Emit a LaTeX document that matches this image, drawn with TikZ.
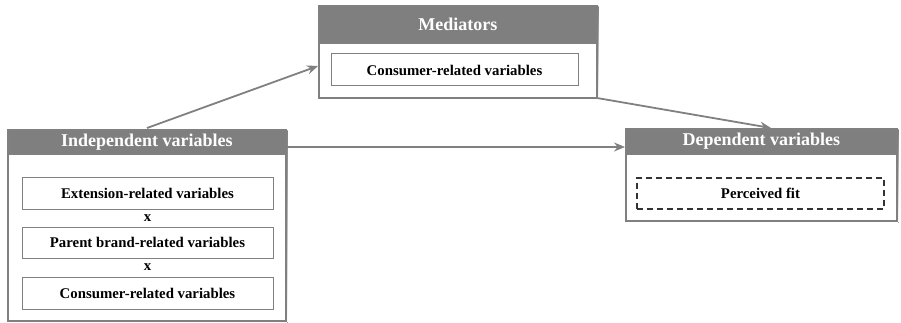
\documentclass[tikz,border=0pt]{standalone}
\usepackage{fontspec}
\setmainfont{Liberation Serif}
\usetikzlibrary{arrows.meta,calc}
\definecolor{hdr}{HTML}{7F7F7F}
\definecolor{edge}{HTML}{808080}
\definecolor{shade}{HTML}{A6A6A6}
\tikzset{
  outerbox/.style={draw=edge, line width=1.8pt, fill=white, anchor=north west, inner sep=0pt},
  header/.style={fill=hdr, draw=edge, line width=1.8pt, anchor=north west, inner sep=0pt, text=white, font=\fontsize{18}{20}\selectfont\bfseries},
  innerbox/.style={draw=edge, line width=1pt, fill=white, inner sep=0pt, font=\fontsize{14.8}{16}\selectfont\bfseries},
  dashbox/.style={draw=black!80, dashed, dash pattern=on 6pt off 4pt, line width=1.2pt, fill=white, inner sep=0pt, font=\fontsize{14.8}{16}\selectfont\bfseries},
  times/.style={inner sep=0pt, font=\fontsize{14.8}{16}\selectfont\bfseries},
  conn/.style={draw=edge, line width=1.8pt, -{Stealth[length=11pt,width=9pt]}},
}
\begin{document}
\begin{tikzpicture}[x=1pt,y=-1pt]
\useasboundingbox (0,0) rectangle (901,323);
% shadows
\fill[shade] (320,7) rectangle (598.5,99.5);
\fill[shade] (9,131) rectangle (287.5,322.5);
\fill[shade] (627,130) rectangle (898.5,222.5);
% Mediators
\node[outerbox, minimum width=278pt, minimum height=92pt] (med) at (318,5) {};
\node[header, minimum width=278pt, minimum height=37pt] (medh) at (318,5) {Mediators};
\node[innerbox, minimum width=247pt, minimum height=32pt] (medi) at (454.5,70) {Consumer-related variables};
% Independent
\node[outerbox, minimum width=278pt, minimum height=191pt] (ind) at (7,129) {};
\node[header, minimum width=278pt, minimum height=24pt] (indh) at (7,129) {Independent variables};
\node[innerbox, minimum width=251pt, minimum height=32pt] (ind1) at (147.5,193) {Extension-related variables};
\node[times] (x1) at (147.5,218) {x};
\node[innerbox, minimum width=251pt, minimum height=31pt] (ind2) at (147.5,242.5) {Parent brand-related variables};
\node[times] (x2) at (147.5,267.5) {x};
\node[innerbox, minimum width=251pt, minimum height=32pt] (ind3) at (147.5,293) {Consumer-related variables};
% Dependent
\node[outerbox, minimum width=271pt, minimum height=92pt] (dep) at (625,128) {};
\node[header, minimum width=271pt, minimum height=25pt] (deph) at (625,128) {Dependent variables};
\node[dashbox, minimum width=247pt, minimum height=31pt] (depi) at (760.5,193.5) {Perceived fit};
% connectors
\coordinate (a1s) at (147,128);
\coordinate (a1e) at (318,66);
\coordinate (a2s) at (597,98);
\coordinate (a2e) at (771,128);
\coordinate (a3s) at (285.5,147);
\coordinate (a3e) at (625,147);
\draw[conn] (a1s) -- (a1e);
\draw[conn] (a2s) -- (a2e);
\draw[conn] (a3s) -- (a3e);
\end{tikzpicture}
\end{document}
